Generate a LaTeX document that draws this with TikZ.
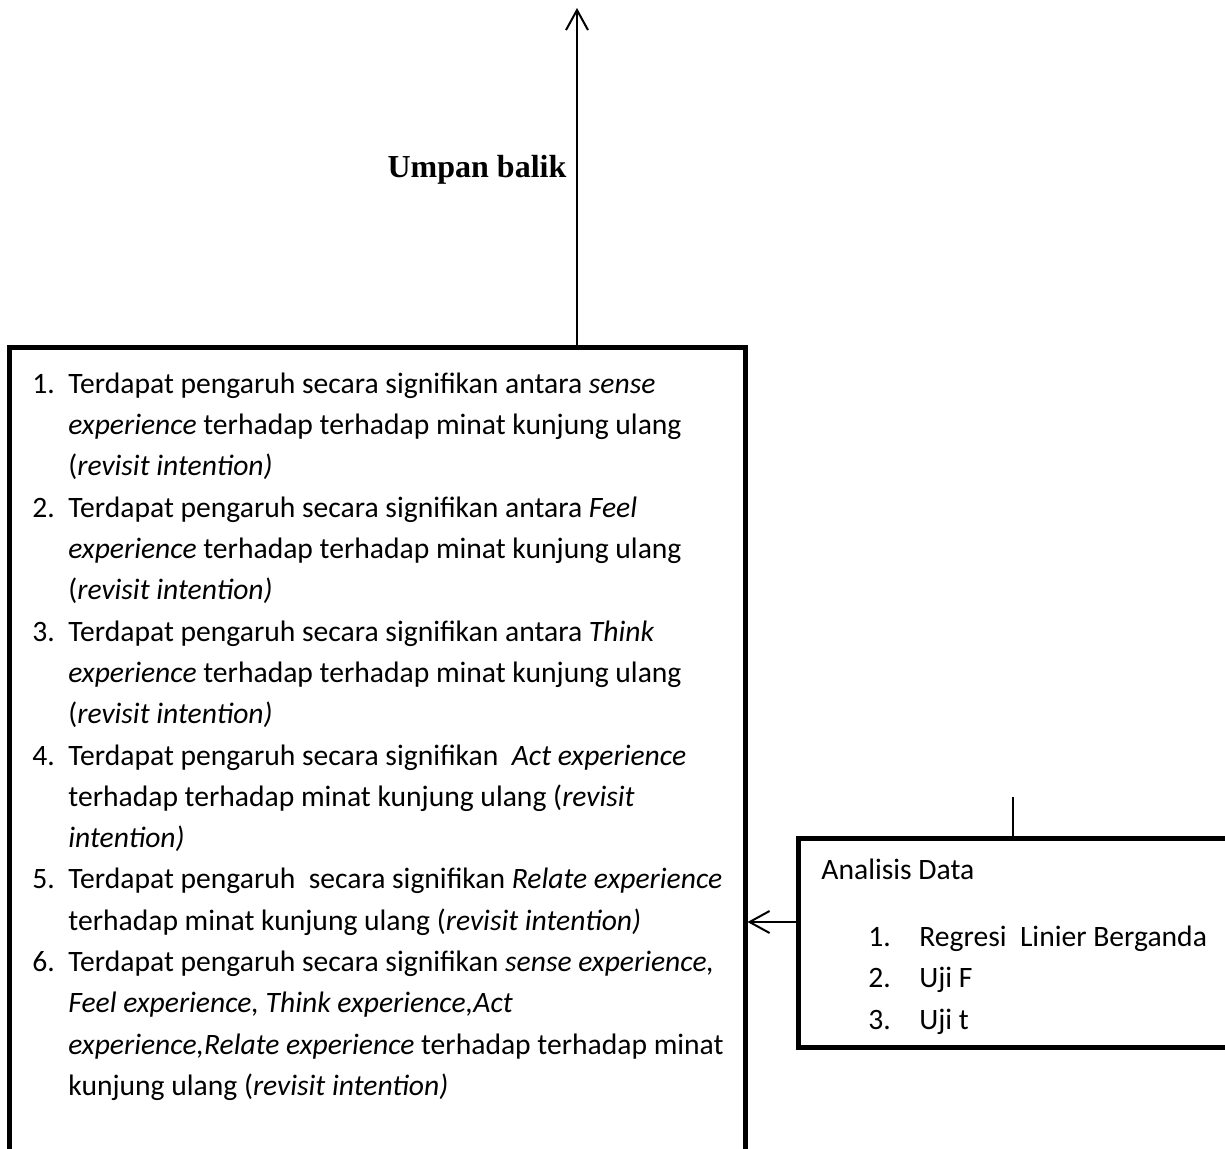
\documentclass[tikz,border=0pt]{standalone}
\usepackage{fontspec}
\setmainfont{Carlito}
\newfontfamily\judulfont{Liberation Serif}
\usetikzlibrary{arrows.meta}
\begin{document}
\begin{tikzpicture}[x=0.5pt,y=-0.5pt,
    kotak/.style={draw,line width=2.5pt,inner sep=0pt},
    teks/.style={inner sep=0pt,align=left,font=\fontsize{14.8}{20.65}\selectfont},
    panah/.style={line width=1pt,-{Straight Barb[length=10pt,width=11pt]}},
    garis/.style={line width=1pt}]
  \clip (0,0) rectangle (1225,1149);
  % kotak
  \node[kotak,minimum width=368pt,minimum height=426pt] (hasil) at (377,774) {};
  \node[kotak,minimum width=231pt,minimum height=104.5pt] (analisis) at (1029,942.5) {};
  % isi kotak kiri
  \node[teks,anchor=north west] (daftar) at (32,364) {%
    \begin{tabular}{@{}p{18pt}@{}l@{}}
      1. & Terdapat pengaruh secara signifikan antara \emph{sense}\\
         & \emph{experience} terhadap terhadap minat kunjung ulang\\
         & (\emph{revisit intention)}\\
      2. & Terdapat pengaruh secara signifikan antara \emph{Feel}\\
         & \emph{experience} terhadap terhadap minat kunjung ulang\\
         & (\emph{revisit intention)}\\
      3. & Terdapat pengaruh secara signifikan antara \emph{Think}\\
         & \emph{experience} terhadap terhadap minat kunjung ulang\\
         & (\emph{revisit intention)}\\
      4. & Terdapat pengaruh secara signifikan\ \ \emph{Act experience}\\
         & terhadap terhadap minat kunjung ulang (\emph{revisit}\\
         & \emph{intention)}\\
      5. & Terdapat pengaruh\ \ secara signifikan \emph{Relate experience}\\
         & terhadap minat kunjung ulang (\emph{revisit intention)}\\
      6. & Terdapat pengaruh secara signifikan \emph{sense experience,}\\
         & \emph{Feel experience, Think experience,Act}\\
         & \emph{experience,Relate experience} terhadap terhadap minat\\
         & kunjung ulang (\emph{revisit intention)}
    \end{tabular}};
  % isi kotak kanan
  \node[teks,anchor=north west] (uji) at (821,850) {%
    \begin{tabular}{@{}p{23.5pt}@{}p{25.5pt}@{}l@{}}
      \multicolumn{3}{@{}l@{}}{Analisis Data}\\[12.9pt]
      & 1. & Regresi\ \ Linier Berganda\\
      & 2. & Uji F\\
      & 3. & Uji t
    \end{tabular}};
  \node[inner sep=0pt,font=\judulfont\bfseries\fontsize{16}{19}\selectfont] (umpan) at (477,170) {Umpan balik};
  % penghubung
  \coordinate (puncak) at (577,8);
  \coordinate (ujung) at (1013,797);
  \draw[panah] (hasil.north -| puncak) -- (puncak);
  \draw[panah] ([yshift=10.25pt]analisis.west) -- ([yshift=10.25pt]analisis.west -| hasil.east);
  \draw[garis] (ujung) -- (ujung |- analisis.north);
\end{tikzpicture}
\end{document}
